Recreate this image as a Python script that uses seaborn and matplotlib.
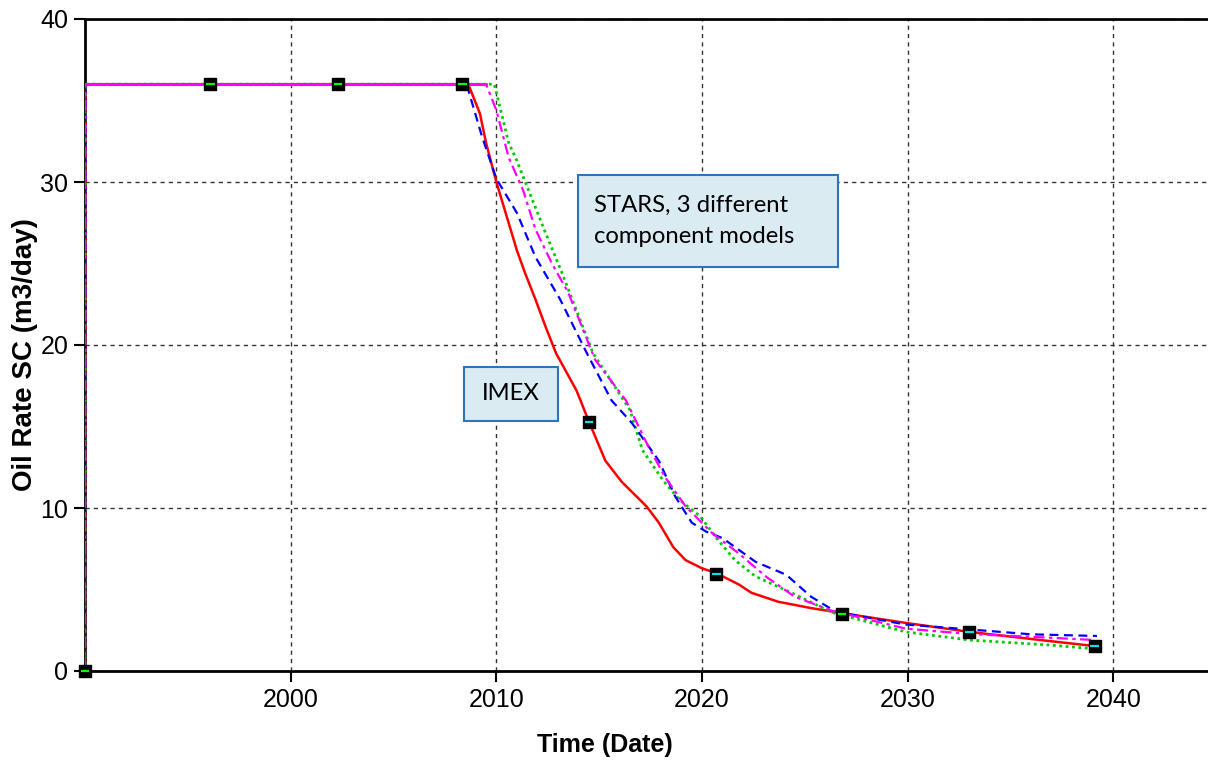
import numpy as np
import pandas as pd
import matplotlib
matplotlib.use("Agg")
import matplotlib.pyplot as plt
from matplotlib.patches import Rectangle
import seaborn as sns

# IMEX (red, solid)
imex_t = [1990.0, 1990.02, 2008.4, 2008.7, 2009.2, 2009.5, 2010.0, 2010.5, 2011.0, 2011.4,
          2011.9, 2012.4, 2012.9, 2013.9, 2014.5, 2015.3, 2016.1, 2017.3, 2017.9, 2018.6,
          2019.2, 2020.0, 2020.7, 2021.8, 2022.4, 2023.7, 2025.3, 2026.8, 2029.9, 2033.0,
          2036.8, 2039.1]
imex_q = [0.0, 36.0, 36.0, 35.8, 34.2, 32.4, 30.0, 27.9, 25.8, 24.4,
          22.8, 21.1, 19.5, 17.2, 15.3, 12.9, 11.6, 10.1, 9.1, 7.6,
          6.8, 6.3, 6.0, 5.3, 4.8, 4.25, 3.86, 3.55, 2.95, 2.4,
          1.85, 1.53]

# STARS model A (blue, dashed)
stars_a_t = [1990.0, 1990.02, 2008.4, 2008.6, 2009.3, 2010.0, 2011.0, 2011.9, 2013.1, 2014.4,
             2015.6, 2016.6, 2017.9, 2018.7, 2019.5, 2020.2, 2021.0, 2022.6, 2024.1, 2025.3,
             2026.5, 2029.9, 2033.0, 2036.0, 2039.2]
stars_a_q = [0.0, 36.0, 36.0, 35.8, 32.8, 30.2, 28.1, 25.4, 22.8, 19.5,
             16.6, 15.2, 12.9, 10.7, 9.1, 8.55, 8.15, 6.7, 5.9, 4.56,
             3.64, 2.85, 2.55, 2.25, 2.15]

# STARS model B (green, dotted)
stars_b_t = [1990.0, 1990.02, 2009.5, 2009.9, 2010.6, 2011.0, 2011.5, 2012.4, 2013.2, 2013.9,
             2014.7, 2016.5, 2017.1, 2018.1, 2018.9, 2019.9, 2020.8, 2021.6, 2022.6, 2024.4,
             2026.3, 2029.9, 2033.0, 2036.8, 2039.2]
stars_b_q = [0.0, 36.0, 36.0, 36.0, 32.4, 31.3, 29.7, 26.85, 24.4, 22.1,
             19.5, 16.0, 13.56, 11.7, 10.5, 9.5, 8.0, 6.8, 5.8, 4.77,
             3.6, 2.4, 1.9, 1.6, 1.35]

# STARS model C (magenta, dash-dot)
stars_c_t = [1990.0, 1990.02, 2009.5, 2010.0, 2010.6, 2011.3, 2011.9, 2012.7, 2013.5, 2014.8,
             2016.3, 2017.3, 2018.2, 2019.2, 2020.5, 2021.8, 2023.1, 2024.5, 2026.3, 2029.9,
             2033.0, 2036.8, 2039.1]
stars_c_q = [0.0, 36.0, 36.0, 34.4, 31.5, 29.5, 27.1, 25.0, 23.2, 19.1,
             16.6, 14.0, 11.9, 10.1, 8.45, 7.2, 5.8, 4.56, 3.7, 2.6,
             2.27, 2.05, 1.9]

# black square markers
mark_t = [1990.0, 1996.1, 2002.3, 2008.35, 2014.5, 2020.7, 2026.8, 2033.0, 2039.1]
mark_q = [0.0, 36.0, 36.0, 36.0, 15.3, 5.95, 3.5, 2.4, 1.53]
mark_inner = ["#00ff00", "#00ff00", "#00ff00", "#00ff00", "#00e5e5", "#00e5e5",
              "#00ff00", "#00e5e5", "#00e5e5"]

x_ticks = [2000, 2010, 2020, 2030, 2040]
y_ticks = [0, 10, 20, 30, 40]

sns.set_style("white")
plt.rcParams["font.family"] = ["Liberation Sans", "DejaVu Sans"]
plt.rcParams["text.color"] = "black"
plt.rcParams["axes.labelcolor"] = "black"

fig = plt.figure(figsize=(12.08, 7.65), dpi=100)
ax = fig.add_axes([85 / 1208, 94 / 765, 1 - 85 / 1208, (671 - 19) / 765])

series = [
    (imex_t, imex_q, "#ff0000", "-", 1.8),
    (stars_b_t, stars_b_q, "#00cc00", (0, (1, 1.3)), 2.0),
    (stars_a_t, stars_a_q, "#0000ff", (0, (4, 2.5)), 1.6),
    (stars_c_t, stars_c_q, "#ff00ff", (0, (5, 2, 1.5, 2)), 1.6),
]
for t, q, col, ls, lw in series:
    df = pd.DataFrame({"t": t, "q": q})
    sns.lineplot(data=df, x="t", y="q", ax=ax, color=col, linestyle=ls, linewidth=lw,
                 estimator=None, sort=False, zorder=3)

# flat plateau drawn solid magenta on top
plateau = pd.DataFrame({"t": stars_c_t[1:3], "q": stars_c_q[1:3]})
sns.lineplot(data=plateau, x="t", y="q", ax=ax, color="#ff00ff", linewidth=2.2,
             estimator=None, sort=False, zorder=4)

ax.scatter(mark_t, mark_q, marker="s", s=70, color="black", zorder=6, clip_on=False)
ax.scatter(mark_t, mark_q, marker="_", s=40, color=mark_inner, linewidths=1.6,
           zorder=7, clip_on=False)

ax.set_xlim(1990, 2044.6)
ax.set_ylim(0, 40)
ax.set_xticks(x_ticks)
ax.set_yticks(y_ticks)
ax.tick_params(axis="both", direction="out", length=8, width=1.5, color="black",
               labelsize=18, pad=4, left=True, bottom=True, labelcolor="black")

ax.grid(True, color="#333333", linestyle=(0, (3, 3)), linewidth=1.0)
ax.set_axisbelow(True)

for side in ["left", "bottom", "top"]:
    ax.spines[side].set_color("black")
    ax.spines[side].set_linewidth(2)
ax.spines["right"].set_visible(False)

ax.set_xlabel("Time (Date)", fontsize=18, fontweight="bold", color="black")
ax.xaxis.set_label_coords(0.463, -0.095)
ax.set_ylabel("Oil Rate SC (m3/day)", fontsize=20, fontweight="bold", color="black")
ax.yaxis.set_label_coords(-0.042, 0.485)

# annotation boxes
box_kw = dict(facecolor="#daebf2", edgecolor="#2e75b6", linewidth=1.5, zorder=8)
ax.add_patch(Rectangle((2013.98, 24.79), 12.62, 5.64, **box_kw))
ax.text(2014.76, 27.6, "STARS, 3 different\ncomponent models", fontsize=17.2,
        family="Lato", va="center", ha="left", linespacing=1.6, zorder=9)
ax.add_patch(Rectangle((2008.45, 15.34), 4.56, 3.31, **box_kw))
ax.text(2010.7, 17.0, "IMEX", fontsize=17.2, family="Lato", va="center", ha="center",
        zorder=9)

fig.savefig("out.png", dpi=100)
